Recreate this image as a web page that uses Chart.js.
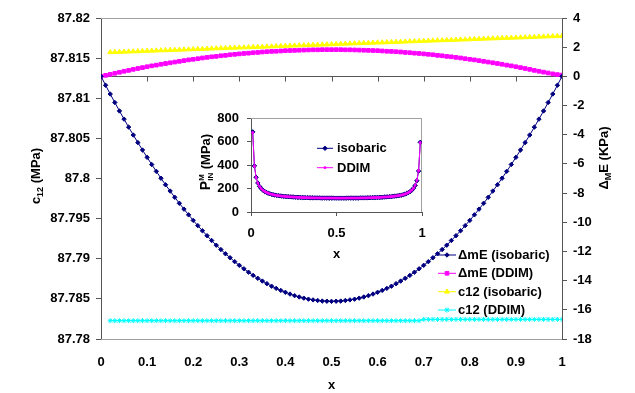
<!DOCTYPE html>
<html>
<head>
<meta charset="utf-8">
<script src="https://cdn.jsdelivr.net/npm/chart.js@4.4.0/dist/chart.umd.min.js"></script>
<style>
  html, body { margin: 0; padding: 0; background: #fff; }
  #wrap { position: relative; width: 635px; height: 393px; }
  #main { position: absolute; left: 0; top: 0; }
  #inset { position: absolute; left: 190px; top: 100px; }
</style>
</head>
<body>
<div id="wrap">
  <canvas id="main" width="635" height="393"></canvas>
  <canvas id="inset" width="250" height="165"></canvas>
</div>
<script>
// x positions (mole fraction), step 0.01
const xMain = [0,0.01,0.02,0.03,0.04,0.05,0.06,0.07,0.08,0.09,0.1,0.11,0.12,0.13,0.14,0.15,0.16,0.17,0.18,0.19,0.2,
  0.21,0.22,0.23,0.24,0.25,0.26,0.27,0.28,0.29,0.3,0.31,0.32,0.33,0.34,0.35,0.36,0.37,0.38,0.39,0.4,
  0.41,0.42,0.43,0.44,0.45,0.46,0.47,0.48,0.49,0.5,0.51,0.52,0.53,0.54,0.55,0.56,0.57,0.58,0.59,0.6,
  0.61,0.62,0.63,0.64,0.65,0.66,0.67,0.68,0.69,0.7,0.71,0.72,0.73,0.74,0.75,0.76,0.77,0.78,0.79,0.8,
  0.81,0.82,0.83,0.84,0.85,0.86,0.87,0.88,0.89,0.9,0.91,0.92,0.93,0.94,0.95,0.96,0.97,0.98,0.99,1];

// ΔmE (KPa), right axis, x = 0 .. 1
const dmeIsobaric = [0,-0.61,-1.21,-1.79,-2.37,-2.93,-3.48,-4.02,-4.54,-5.05,-5.55,-6.04,-6.51,-6.98,-7.43,-7.86,-8.29,-8.70,-9.10,-9.49,-9.87,
  -10.23,-10.58,-10.92,-11.25,-11.57,-11.87,-12.16,-12.43,-12.70,-12.95,-13.19,-13.42,-13.64,-13.84,-14.03,-14.21,-14.38,-14.53,-14.67,-14.80,
  -14.92,-15.03,-15.12,-15.20,-15.27,-15.32,-15.36,-15.40,-15.41,-15.42,-15.41,-15.40,-15.36,-15.32,-15.27,-15.20,-15.12,-15.03,-14.92,-14.80,
  -14.67,-14.53,-14.38,-14.21,-14.03,-13.84,-13.64,-13.42,-13.19,-12.95,-12.70,-12.43,-12.16,-11.87,-11.57,-11.25,-10.92,-10.58,-10.23,-9.87,
  -9.49,-9.10,-8.70,-8.29,-7.86,-7.43,-6.98,-6.51,-6.04,-5.55,-5.05,-4.54,-4.02,-3.48,-2.93,-2.37,-1.79,-1.21,-0.61,0];
const dmeDdim = [0,0.07,0.14,0.21,0.28,0.35,0.41,0.48,0.54,0.60,0.66,0.72,0.77,0.83,0.88,0.93,0.98,1.03,1.08,1.13,1.17,
  1.21,1.26,1.30,1.34,1.37,1.41,1.44,1.48,1.51,1.54,1.57,1.59,1.62,1.64,1.67,1.69,1.71,1.72,1.74,1.76,
  1.77,1.78,1.79,1.80,1.81,1.82,1.82,1.83,1.83,1.83,1.83,1.83,1.82,1.82,1.81,1.80,1.79,1.78,1.77,1.76,
  1.74,1.72,1.71,1.69,1.67,1.64,1.62,1.59,1.57,1.54,1.51,1.48,1.44,1.41,1.37,1.34,1.30,1.26,1.21,1.17,
  1.13,1.08,1.03,0.98,0.93,0.88,0.83,0.77,0.72,0.66,0.60,0.54,0.48,0.41,0.35,0.29,0.23,0.17,0.12,0.09];

// c12 (MPa), left axis, x = 0.02 .. 1
const c12Isobaric = [87.81573,87.81575,87.81577,87.81579,87.81581,87.81583,87.81585,87.81587,87.81590,87.81592,
  87.81594,87.81596,87.81598,87.81600,87.81602,87.81604,87.81606,87.81608,87.81610,87.81612,
  87.81614,87.81616,87.81619,87.81621,87.81623,87.81625,87.81627,87.81629,87.81631,87.81633,
  87.81635,87.81637,87.81639,87.81641,87.81643,87.81645,87.81648,87.81650,87.81652,87.81654,
  87.81656,87.81658,87.81660,87.81662,87.81664,87.81666,87.81668,87.81670,87.81672,87.81674,
  87.81677,87.81679,87.81681,87.81683,87.81685,87.81687,87.81689,87.81691,87.81693,87.81695,
  87.81697,87.81699,87.81701,87.81703,87.81705,87.81708,87.81710,87.81712,87.81714,87.81716,
  87.81718,87.81720,87.81722,87.81724,87.81726,87.81728,87.81730,87.81732,87.81734,87.81737,
  87.81739,87.81741,87.81743,87.81745,87.81747,87.81749,87.81751,87.81753,87.81755,87.81757,
  87.81759,87.81761,87.81763,87.81766,87.81768,87.81770,87.81772,87.81774,87.81776];
const c12Ddim = [87.78228,87.78228,87.78228,87.78228,87.78228,87.78228,87.78228,87.78228,87.78228,87.78228,
  87.78228,87.78228,87.78228,87.78228,87.78228,87.78228,87.78228,87.78228,87.78228,87.78228,
  87.78228,87.78228,87.78228,87.78228,87.78228,87.78228,87.78228,87.78228,87.78228,87.78228,
  87.78228,87.78228,87.78228,87.78228,87.78228,87.78228,87.78228,87.78228,87.78228,87.78228,
  87.78228,87.78228,87.78228,87.78228,87.78228,87.78228,87.78228,87.78228,87.78228,87.78228,
  87.78228,87.78228,87.78228,87.78228,87.78228,87.78228,87.78228,87.78228,87.78228,87.78228,
  87.78228,87.78228,87.78228,87.78228,87.78228,87.78228,87.78228,87.78228,
  87.78244,87.78244,87.78244,87.78244,87.78244,87.78244,87.78244,87.78244,87.78244,87.78244,
  87.78244,87.78244,87.78244,87.78244,87.78244,87.78244,87.78244,87.78244,87.78244,87.78244,
  87.78244,87.78244,87.78244,87.78244,87.78244,87.78244,87.78244,87.78244,87.78244,87.78244,87.78244];

// inset: P_IN^M (MPa), x = 0.01 .. 0.99
const pIsobaric = [682,392,295,247,218,199,185,175,167,160,155,151,147,144,141,139,137,135,134,132,
  131,130,129,128,127,126,125,125,124,123,123,122,122,121,121,121,120,120,120,120,
  119,119,119,119,119,119,119,119,118,118,118,118,118,118,118,119,119,119,119,119,
  119,119,119,120,120,120,120,121,121,122,122,123,123,124,124,125,126,127,128,129,
  130,131,133,135,136,139,141,144,148,152,158,165,173,185,201,226,266,348,593];
const pDdim = [676,389,293,246,218,199,185,175,167,160,155,151,147,144,141,139,137,135,134,132,
  131,130,129,128,127,126,125,125,124,123,123,122,122,121,121,121,120,120,120,120,
  119,119,119,119,119,119,119,119,118,118,118,118,118,118,118,119,119,119,119,119,
  119,119,119,120,120,120,120,121,121,122,122,123,123,124,124,125,126,127,128,129,
  130,131,133,135,136,139,141,144,148,152,158,165,174,186,202,228,269,352,590];

const xInset = xMain.slice(1, 100);
const xC12 = xMain.slice(2);

const FONT = '"Liberation Sans", Arial, sans-serif';
const AXIS = '#555555';
const FRAME = '#a0a0a0';
Chart.defaults.font.family = FONT;
Chart.defaults.color = '#000';

const pts = (xs, ys) => ys.map((y, i) => ({ x: xs[i], y }));
const trim = d => v => String(parseFloat(v.toFixed(d)));

// rotated axis title with sub/superscripts
function drawRotTitle(ctx, cx, cy, parts) {
  ctx.save();
  ctx.translate(cx, cy);
  ctx.rotate(-Math.PI / 2);
  ctx.fillStyle = '#000';
  ctx.textBaseline = 'alphabetic';
  ctx.textAlign = 'left';
  const pieces = parts.map(p => p.stack || [p]);
  const widths = pieces.map(st => Math.max(...st.map(p => {
    ctx.font = `bold ${p.size}px ${FONT}`;
    return ctx.measureText(p.t).width;
  })));
  let x = -widths.reduce((a, b) => a + b, 0) / 2;
  pieces.forEach((st, i) => {
    st.forEach(p => {
      ctx.font = `bold ${p.size}px ${FONT}`;
      ctx.fillText(p.t, x, 4.7 + (p.dy || 0));
    });
    x += widths[i];
  });
  ctx.restore();
}

function drawLegend(chart, items, lx0, lx1, tx, ys) {
  const ctx = chart.ctx;
  ctx.save();
  ctx.font = `bold 13px ${FONT}`;
  ctx.textBaseline = 'middle';
  ctx.textAlign = 'left';
  items.forEach((ds, i) => {
    const y = ys[i];
    ctx.strokeStyle = ds.borderColor;
    ctx.lineWidth = 1;
    ctx.beginPath();
    ctx.moveTo(lx0, y);
    ctx.lineTo(lx1, y);
    ctx.stroke();
    ctx.fillStyle = ds.pointBackgroundColor;
    ctx.strokeStyle = ds.pointBorderColor;
    ctx.lineWidth = ds.pointBorderWidth;
    Chart.helpers.drawPoint(ctx, {
      pointStyle: ds.pointStyle, radius: ds.pointRadius, rotation: 0, borderWidth: ds.pointBorderWidth
    }, (lx0 + lx1) / 2, y);
    ctx.fillStyle = '#000';
    ctx.fillText(ds.label, tx, y + 0.5);
  });
  ctx.restore();
}

function series(label, xs, ys, axis, color, style, radius, bw) {
  return {
    label, data: pts(xs, ys), yAxisID: axis,
    borderColor: color, backgroundColor: color, borderWidth: 1,
    pointStyle: style, pointRadius: radius,
    pointBackgroundColor: color, pointBorderColor: color, pointBorderWidth: bw
  };
}

const mainFrame = {
  id: 'mainFrame',
  beforeDatasetsDraw(chart) {
    const { ctx, chartArea: a, scales } = chart;
    ctx.save();
    ctx.strokeStyle = FRAME;
    ctx.lineWidth = 1;
    ctx.beginPath();
    ctx.moveTo(a.left, a.top + 0.5); ctx.lineTo(a.right, a.top + 0.5);
    ctx.moveTo(a.left, a.bottom + 0.5); ctx.lineTo(a.right, a.bottom + 0.5);
    ctx.stroke();
    // secondary x axis crossing at ΔmE = 0
    const y0 = Math.round(scales.y1.getPixelForValue(0)) + 0.5;
    ctx.strokeStyle = AXIS;
    ctx.beginPath();
    ctx.moveTo(a.left, y0); ctx.lineTo(a.right, y0);
    scales.x.ticks.forEach(t => {
      const px = Math.round(scales.x.getPixelForValue(t.value)) + 0.5;
      ctx.moveTo(px, y0); ctx.lineTo(px, y0 + 5);
    });
    ctx.stroke();
    ctx.restore();
  },
  afterDraw(chart) {
    const ctx = chart.ctx;
    drawRotTitle(ctx, 35, 176, [
      { t: 'c', size: 13 }, { t: '12', size: 9, dy: 3 }, { t: ' (MPa)', size: 13 }
    ]);
    drawRotTitle(ctx, 603, 158, [
      { t: 'Δ', size: 13 }, { t: 'M', size: 9, dy: 3 }, { t: 'E (KPa)', size: 13 }
    ]);
    drawLegend(chart, chart.data.datasets, 438, 456, 458, [255, 273.3, 291.7, 310]);
  }
};

new Chart(document.getElementById('main'), {
  type: 'line',
  data: {
    datasets: [
      series('ΔmE (isobaric)', xMain, dmeIsobaric, 'y1', '#000080', 'rectRot', 2.2, 1),
      series('ΔmE (DDIM)', xMain, dmeDdim, 'y1', '#ff00ff', 'rect', 2.6, 1),
      series('c12 (isobaric)', xC12, c12Isobaric, 'y', '#ffff00', 'triangle', 2.8, 1),
      series('c12 (DDIM)', xC12, c12Ddim, 'y', '#00ffff', 'star', 2.5, 1)
    ]
  },
  options: {
    responsive: false,
    animation: false,
    devicePixelRatio: 1,
    events: [],
    layout: { padding: { top: 18 } },
    elements: { line: { tension: 0 } },
    plugins: { legend: { display: false }, tooltip: { enabled: false } },
    scales: {
      x: {
        type: 'linear', min: 0, max: 1,
        afterFit: s => { s.height = 54; },
        border: { display: false },
        grid: { display: false, drawTicks: false },
        ticks: { stepSize: 0.1, padding: 16, maxRotation: 0, autoSkip: false, callback: trim(2), font: { size: 13, weight: 'bold' } },
        title: { display: true, text: 'x', font: { size: 13, weight: 'bold' }, padding: 0 }
      },
      y: {
        position: 'left', min: 87.78, max: 87.82,
        afterFit: s => { s.width = 101; },
        border: { color: AXIS },
        grid: { drawOnChartArea: false, color: AXIS, tickLength: 5 },
        ticks: { stepSize: 0.005, padding: 6, autoSkip: false, callback: trim(3), font: { size: 13, weight: 'bold' } }
      },
      y1: {
        position: 'right', min: -18, max: 4,
        afterFit: s => { s.width = 73; },
        border: { color: AXIS },
        grid: { drawOnChartArea: false, color: AXIS, tickLength: 5 },
        ticks: { stepSize: 2, padding: 6, autoSkip: false, callback: trim(0), font: { size: 13, weight: 'bold' } }
      }
    }
  },
  plugins: [mainFrame]
});

// inset chart
const insetFrame = {
  id: 'insetFrame',
  beforeDatasetsDraw(chart) {
    const { ctx, chartArea: a } = chart;
    ctx.save();
    ctx.strokeStyle = FRAME;
    ctx.lineWidth = 1;
    ctx.beginPath();
    ctx.moveTo(a.left, a.top + 0.5); ctx.lineTo(a.right, a.top + 0.5);
    ctx.moveTo(a.right - 0.5, a.top); ctx.lineTo(a.right - 0.5, a.bottom);
    ctx.stroke();
    ctx.restore();
  },
  afterDraw(chart) {
    drawRotTitle(chart.ctx, 15, 62, [
      { t: 'P', size: 14 },
      { stack: [{ t: 'M', size: 8, dy: -5.5 }, { t: 'IN', size: 8, dy: 3 }] },
      { t: ' (MPa)', size: 13 }
    ]);
    drawLegend(chart, [chart.data.datasets[0], chart.data.datasets[1]], 127, 143, 147, [48.3, 67.7]);
  }
};

new Chart(document.getElementById('inset'), {
  type: 'line',
  data: {
    datasets: [
      Object.assign(series('isobaric', xInset, pIsobaric, 'y', '#000080', 'rectRot', 2.2, 1), { order: 1 }),
      Object.assign(series('DDIM', xInset, pDdim, 'y', '#ff00ff', 'rect', 1.2, 1), { order: 0 })
    ]
  },
  options: {
    responsive: false,
    animation: false,
    devicePixelRatio: 1,
    events: [],
    layout: { padding: { top: 18, right: 18 } },
    elements: { line: { tension: 0 } },
    plugins: { legend: { display: false }, tooltip: { enabled: false } },
    scales: {
      x: {
        type: 'linear', min: 0, max: 1,
        afterFit: s => { s.height = 53; },
        border: { color: AXIS },
        grid: { drawOnChartArea: false, color: AXIS, tickLength: 4 },
        ticks: { stepSize: 0.5, padding: 10, maxRotation: 0, autoSkip: false, callback: trim(1), font: { size: 13, weight: 'bold' } },
        title: { display: true, text: 'x', font: { size: 13, weight: 'bold' }, padding: { top: 0, bottom: 3 } }
      },
      y: {
        min: 0, max: 800,
        afterFit: s => { s.width = 61; },
        border: { color: AXIS },
        grid: { drawOnChartArea: false, color: AXIS, tickLength: 4 },
        ticks: { stepSize: 200, padding: 8, autoSkip: false, font: { size: 13, weight: 'bold' } }
      }
    }
  },
  plugins: [insetFrame]
});
</script>
</body>
</html>
